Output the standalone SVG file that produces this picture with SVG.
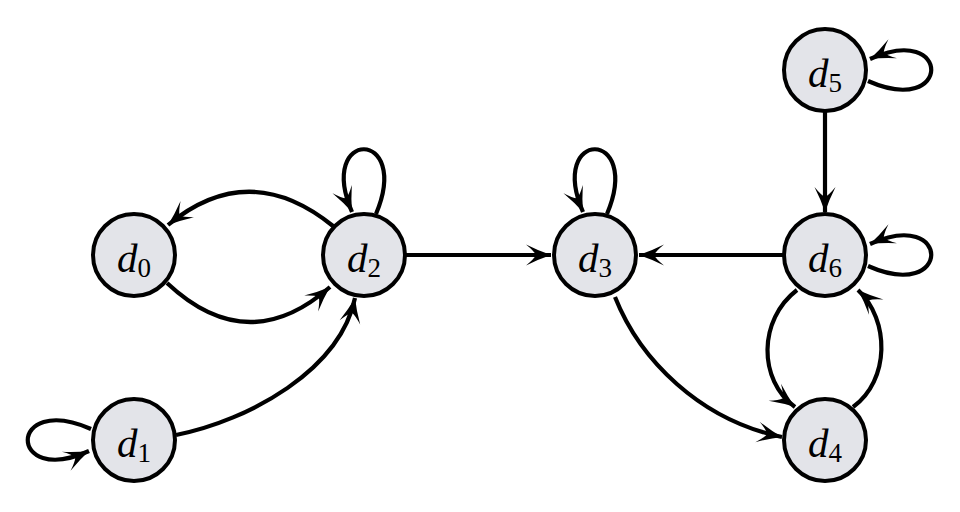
<svg xmlns="http://www.w3.org/2000/svg" width="960" height="512" viewBox="0 0 960 512">
<style>
.node circle{fill:#e3e4e9;stroke:#000;stroke-width:4}
.node text{font-family:"Liberation Serif","DejaVu Serif",serif;font-size:41px;fill:#000;text-anchor:middle}
.node .v{font-style:italic}
.node .s{font-size:27px}
#edges path{fill:none;stroke:#000;stroke-width:4.2;marker-end:url(#ah)}
</style>
<defs>
<marker id="ah" viewBox="-27 -12 29 24" refX="0" refY="0" markerWidth="29" markerHeight="24" markerUnits="userSpaceOnUse" orient="auto">
<path d="M0,0 Q-12,-4 -25,-10.5 Q-17,-4 -15,0 Q-17,4 -25,10.5 Q-12,4 0,0 Z" fill="#000"/>
</marker>
</defs>
<g id="edges">
<path d="M333,226 Q249,158 168,225"/>
<path d="M167,283 Q248,359 330,287"/>
<path d="M376,214 C412,128 316,128 352,212"/>
<path d="M607,214 C643,128 547,128 583,212"/>
<path d="M868,81 C952,118 952,22 870,59"/>
<path d="M868,266 C952,303 952,207 870,244"/>
<path d="M91,429 C7,392 7,488 89,451"/>
<path d="M176,435 C250,420 340,370 355,298"/>
<path d="M406,255 L551,255"/>
<path d="M783,255 L639,255"/>
<path d="M825,112 L825,212"/>
<path d="M615,297 C640,360 700,420 782,437"/>
<path d="M797,290 C758,320 758,380 795,407"/>
<path d="M853,407 C890,380 890,320 858,290"/>
</g>
<g id="d0" class="node"><circle cx="134" cy="255" r="41"/><text x="134" y="272"><tspan class="v">d</tspan><tspan class="s" dy="5">0</tspan></text></g>
<g id="d1" class="node"><circle cx="134" cy="440" r="41"/><text x="134" y="457"><tspan class="v">d</tspan><tspan class="s" dy="5">1</tspan></text></g>
<g id="d2" class="node"><circle cx="364" cy="255" r="41"/><text x="364" y="272"><tspan class="v">d</tspan><tspan class="s" dy="5">2</tspan></text></g>
<g id="d3" class="node"><circle cx="595" cy="255" r="41"/><text x="595" y="272"><tspan class="v">d</tspan><tspan class="s" dy="5">3</tspan></text></g>
<g id="d4" class="node"><circle cx="825" cy="440" r="41"/><text x="825" y="457"><tspan class="v">d</tspan><tspan class="s" dy="5">4</tspan></text></g>
<g id="d5" class="node"><circle cx="825" cy="70" r="41"/><text x="825" y="87"><tspan class="v">d</tspan><tspan class="s" dy="5">5</tspan></text></g>
<g id="d6" class="node"><circle cx="825" cy="255" r="41"/><text x="825" y="272"><tspan class="v">d</tspan><tspan class="s" dy="5">6</tspan></text></g>
</svg>
